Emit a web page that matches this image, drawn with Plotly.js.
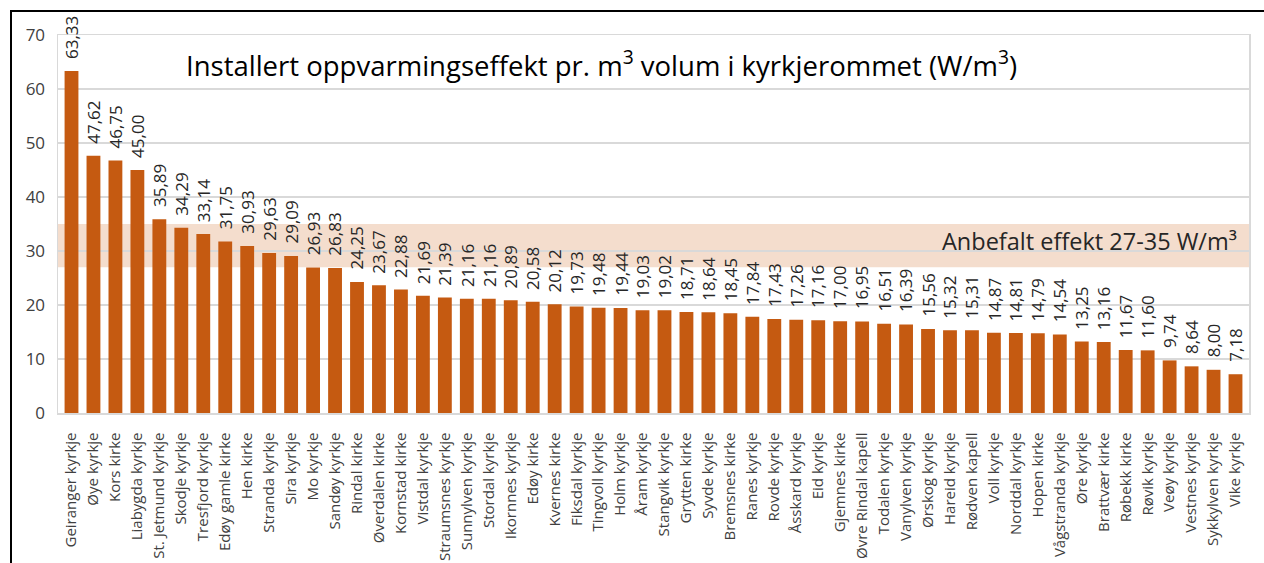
<!DOCTYPE html>
<html lang="no">
<head>
    <meta charset="UTF-8">
    <title>Installert oppvarmingseffekt</title>
    <script src="https://cdn.plot.ly/plotly-3.0.1.min.js"></script>
    <style>
        html, body { margin: 0; padding: 0; background: white; }
        #chart { width: 1264px; height: 563px; }
        /* black frame round the chart, top and left only */
        .frame {
            position: absolute;
            left: 10px;
            top: 10px;
            width: 1254px;
            height: 553px;
            border-top: 2px solid #000;
            border-left: 2px solid #000;
            pointer-events: none;
        }
    </style>
</head>
<body>
    <div id="chart"></div>
    <div class="frame"></div>

    <script>
        const churches = [
            'Geiranger kyrkje', 'Øye kyrkje', 'Kors kirke', 'Liabygda kyrkje', 'St. Jetmund kyrkje',
            'Skodje kyrkje', 'Tresfjord kyrkje', 'Edøy gamle kirke', 'Hen kirke', 'Stranda kyrkje',
            'Sira kyrkje', 'Mo kyrkje', 'Sandøy kyrkje', 'Rindal kirke', 'Øverdalen kirke',
            'Kornstad kirke', 'Vistdal kyrkje', 'Straumsnes kyrkje', 'Sunnylven kyrkje', 'Stordal kyrkje',
            'Ikornnes kyrkje', 'Edøy kirke', 'Kvernes kirke', 'Fiksdal kyrkje', 'Tingvoll kyrkje',
            'Holm kyrkje', 'Åram kyrkje', 'Stangvik kyrkje', 'Grytten kirke', 'Syvde kyrkje',
            'Bremsnes kirke', 'Ranes kyrkje', 'Rovde kyrkje', 'Åsskard kyrkje', 'Eid kyrkje',
            'Gjemnes kirke', 'Øvre Rindal kapell', 'Todalen kyrkje', 'Vanylven kyrkje', 'Ørskog kyrkje',
            'Hareid kyrkje', 'Rødven kapell', 'Voll kyrkje', 'Norddal kyrkje', 'Hopen kirke',
            'Vågstranda kyrkje', 'Øre kyrkje', 'Brattvær kirke', 'Røbekk kirke', 'Røvik kyrkje',
            'Veøy kyrkje', 'Vestnes kyrkje', 'Sykkylven kyrkje', 'Vike kyrkje'
        ];

        const effect = [
            63.33, 47.62, 46.75, 45.00, 35.89, 34.29, 33.14, 31.75, 30.93, 29.63,
            29.09, 26.93, 26.83, 24.25, 23.67, 22.88, 21.69, 21.39, 21.16, 21.16,
            20.89, 20.58, 20.12, 19.73, 19.48, 19.44, 19.03, 19.02, 18.71, 18.64,
            18.45, 17.84, 17.43, 17.26, 17.16, 17.00, 16.95, 16.51, 16.39, 15.56,
            15.32, 15.31, 14.87, 14.81, 14.79, 14.54, 13.25, 13.16, 11.67, 11.60,
            9.74, 8.64, 8.00, 7.18
        ];

        // recommended range
        const bandLow = 27;
        const bandHigh = 35;

        const yTicks = [0, 10, 20, 30, 40, 50, 60, 70];

        const font = '"Open Sans", "Noto Sans", sans-serif';

        const trace = {
            type: 'bar',
            x: churches,
            y: effect,
            marker: { color: '#C55A11' },
            hoverinfo: 'x+y'
        };

        // value labels, rotated, sitting a little above each bar
        const valueLabels = churches.map((c, i) => ({
            x: c,
            y: effect[i],
            xref: 'x', yref: 'y',
            text: effect[i].toFixed(2).replace('.', ','),
            textangle: -90,
            xanchor: 'center',
            yanchor: 'bottom',
            yshift: 10,
            showarrow: false,
            font: { family: font, size: 17, color: '#262626' }
        }));

        const layout = {
            width: 1264,
            height: 563,
            margin: { l: 58, r: 15, t: 35, b: 150 },
            paper_bgcolor: 'white',
            plot_bgcolor: 'white',
            showlegend: false,
            bargap: 0.37,
            font: { family: font, color: '#404040' },
            xaxis: {
                type: 'category',
                tickangle: -90,
                tickfont: { family: font, size: 15, color: '#404040' },
                showline: true,
                mirror: true,
                linecolor: '#d9d9d9',
                linewidth: 1.5,
                showgrid: false,
                ticks: '',
                ticklabelstandoff: 12
            },
            yaxis: {
                range: [0, 70],
                tickvals: yTicks,
                tickfont: { family: font, size: 17, color: '#404040' },
                gridcolor: '#d9d9d9',
                gridwidth: 1.5,
                showline: true,
                mirror: true,
                linecolor: '#d9d9d9',
                linewidth: 1.5,
                zeroline: false,
                ticks: '',
                ticklabelstandoff: 8
            },
            shapes: [{
                type: 'rect',
                xref: 'paper', yref: 'y',
                x0: 0, x1: 1,
                y0: bandLow, y1: bandHigh,
                fillcolor: '#F4DDCD',
                line: { width: 0 },
                layer: 'below'
            }],
            annotations: valueLabels.concat([
                {
                    xref: 'paper', yref: 'y',
                    x: 0.106, y: 64.8,
                    xanchor: 'left', yanchor: 'middle',
                    text: 'Installert oppvarmingseffekt pr. m<sup>3</sup> volum i kyrkjerommet (W/m<sup>3</sup>)',
                    showarrow: false,
                    font: { family: font, size: 27.5, color: '#000000' }
                },
                {
                    xref: 'paper', yref: 'y',
                    x: 0.992, y: 31.85,
                    xanchor: 'right', yanchor: 'middle',
                    text: 'Anbefalt effekt ' + bandLow + '-' + bandHigh + ' W/m³',
                    showarrow: false,
                    font: { family: font, size: 23.5, color: '#262626' }
                }
            ])
        };

        Plotly.newPlot('chart', [trace], layout, { displayModeBar: false, staticPlot: true });
    </script>
</body>
</html>
